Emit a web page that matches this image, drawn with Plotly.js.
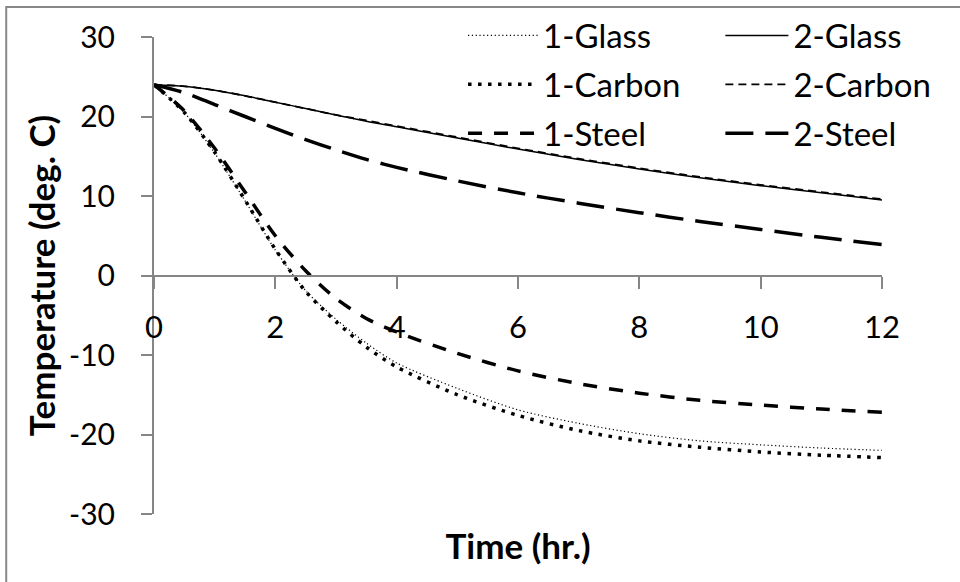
<!DOCTYPE html>
<html>
<head>
<meta charset="utf-8">
<script src="https://cdn.plot.ly/plotly-3.0.1.min.js"></script>
<style>
  html, body { margin: 0; padding: 0; background: #fff; }
  #chart { width: 960px; height: 582px; }
</style>
</head>
<body>
<div id="chart"></div>
<script>
// Time (hr.)
const time = [0, 0.5, 1, 1.5, 2, 2.5, 3, 3.5, 4, 5, 6, 7, 8, 9, 10, 11, 12];

// Temperatures (deg. C)
const glass1  = [24, 20.5, 15.4, 9.4, 3.2, -1.9, -5.5, -8.5, -11.0, -14.2, -16.9, -18.6, -19.9, -20.8, -21.3, -21.7, -22.0];
const carbon1 = [24, 20.5, 15.5, 9.5, 3.3, -2.0, -5.8, -9.0, -11.5, -15.0, -17.6, -19.5, -20.8, -21.6, -22.2, -22.6, -22.9];
const steel1  = [24, 20.7, 16.0, 10.5, 5.0, 0.6, -2.9, -5.4, -7.1, -9.8, -12.0, -13.6, -14.8, -15.7, -16.3, -16.8, -17.2];
const glass2  = [24, 23.8, 23.3, 22.6, 21.8, 21.0, 20.2, 19.4, 18.7, 17.3, 15.9, 14.6, 13.4, 12.3, 11.3, 10.4, 9.5];
const carbon2 = [24, 23.8, 23.3, 22.6, 21.8, 21.0, 20.2, 19.5, 18.8, 17.4, 16.0, 14.7, 13.5, 12.4, 11.4, 10.5, 9.6];
const steel2  = [24, 23.0, 21.5, 20.0, 18.5, 17.1, 15.8, 14.6, 13.6, 11.9, 10.4, 9.1, 7.9, 6.8, 5.8, 4.8, 3.9];

// Axis ticks
const xTicks = [0, 2, 4, 6, 8, 10, 12];
const yTicks = [-30, -20, -10, 0, 10, 20, 30];
const yTickText = ['-30', '-20', '-10', '0', '10', '20', '30'];

const seriesNames = ['1-Glass', '1-Carbon', '1-Steel', '2-Glass', '2-Carbon', '2-Steel'];
const seriesData = [glass1, carbon1, steel1, glass2, carbon2, steel2];
const seriesLegend = ['legend', 'legend', 'legend', 'legend2', 'legend2', 'legend2'];
const seriesLines = [
  {color: '#000', width: 1.2, dash: '1.2px,2.6px'},
  {color: '#000', width: 3.5, dash: '3.5px,6.5px'},
  {color: '#000', width: 3.5, dash: '14px,12px'},
  {color: '#000', width: 1.5, dash: 'solid'},
  {color: '#000', width: 1.8, dash: '8px,5px'},
  {color: '#000', width: 3.5, dash: '28px,12px'}
];

const traces = seriesNames.map((n, i) => ({
  x: time, y: seriesData[i], name: n, type: 'scatter', mode: 'lines',
  legend: seriesLegend[i], legendgroup: 'g' + i,
  line: Object.assign({shape: 'spline', smoothing: 0.8}, seriesLines[i]),
  hoverinfo: 'x+y+name'
}));

const axisColor = '#868686';
const font = 'Lato, "Open Sans", sans-serif';
const legendBase = {
  orientation: 'v', y: 1.062, xanchor: 'left', yanchor: 'top',
  bgcolor: 'rgba(0,0,0,0)', tracegroupgap: 3,
  font: {family: font, size: 33, color: '#000'}
};

const layout = {
  width: 960, height: 582,
  margin: {l: 154, r: 78, t: 37, b: 68, autoexpand: false},
  paper_bgcolor: '#fff', plot_bgcolor: '#fff',
  font: {family: font, size: 30, color: '#000'},
  showlegend: true,
  legend: Object.assign({x: 0.4245, itemwidth: 70}, legendBase),
  legend2: Object.assign({x: 0.778, itemwidth: 63}, legendBase),
  xaxis: {
    range: [0, 12], tickvals: xTicks,
    showgrid: false, zeroline: false,
    showline: true, linecolor: axisColor, linewidth: 2,
    ticks: 'outside', ticklen: 12, tickwidth: 2, tickcolor: axisColor,
    ticklabelstandoff: 12,
    anchor: 'free', position: 0.5,
    tickfont: {family: font, size: 31, color: '#000'},
    title: {text: '<b>Time (hr.)</b>', font: {family: font, size: 35, color: '#000'}, standoff: 190}
  },
  yaxis: {
    range: [-30, 30], tickvals: yTicks, ticktext: yTickText,
    showgrid: false, zeroline: false,
    showline: true, linecolor: axisColor, linewidth: 2,
    ticks: 'outside', ticklen: 11, tickwidth: 2, tickcolor: axisColor,
    ticklabelstandoff: 20,
    tickfont: {family: font, size: 30, color: '#000'},
    title: {text: '<b>Temperature (deg. C)</b>', font: {family: font, size: 35, color: '#000'}, standoff: 3}
  },
  shapes: [{
    type: 'rect', xref: 'paper', yref: 'paper',
    x0: -0.203, x1: 1.12, y0: -0.17, y1: 1.063,
    line: {color: '#888', width: 2}, fillcolor: 'rgba(0,0,0,0)', layer: 'below'
  }]
};

Plotly.newPlot('chart', traces, layout, {displayModeBar: false, staticPlot: true});
</script>
</body>
</html>
